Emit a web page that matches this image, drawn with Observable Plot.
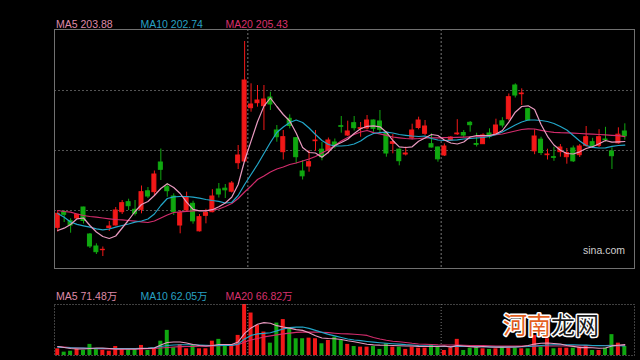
<!DOCTYPE html>
<html><head><meta charset="utf-8">
<script src="https://cdn.jsdelivr.net/npm/d3@7"></script>
<script src="https://cdn.jsdelivr.net/npm/@observablehq/plot@0.6"></script>
<style>
html,body{margin:0;padding:0;background:#000;}
#chart{position:relative;width:640px;height:360px;background:#000;overflow:hidden;}
#chart svg{position:absolute;left:0;}
</style></head><body><div id="chart"></div>
<script>
const opens = [176.26,181.26,178.38,179.24,182.76,174.12,170.28,169.1,176.2,177,
181.26,184.46,182.02,182.02,187.94,187.66,197.16,189.26,186.28,177,
181.8,183.94,175.14,180.1,181.26,188.52,188.78,187.82,196.94,197.48,
214.54,216.14,215.18,217.96,207.4,200.46,211.14,204.94,194.28,195.88,
203.98,201.26,201,203.56,208.78,205.8,209.74,207.94,208.04,210.6,
210.28,206.66,203.14,201.26,199.72,205.06,208.2,206.34,203.02,201.96,
199.4,204.2,206.18,206.6,209.86,203.08,203.02,206.44,206.34,210.34,
211.02,221.8,219.02,214.22,200.74,204.46,199.5,198.86,200.46,198.86,
201.64,199.5,202.5,203.66,202.5,204.52,200.68,203.3,207.08];
const closes = [180.74,180.42,177,180.42,178.44,170.28,168.46,169.22,176.68,181.8,
184.14,183.18,180.74,187.66,186.28,193.32,194.82,187.98,181.26,180.94,
186.06,178.34,179.66,181.06,186.28,186.92,188.26,190.44,199.4,223.4,
215.72,217,217.32,215.72,205.26,205.26,208.84,198.86,192.74,197.26,
204.2,198.86,204.2,202.44,208.58,207.08,208.14,208.14,210.6,207.94,
207.62,200.04,203.66,197.58,200.04,207.4,210.6,208.68,201.96,198.18,
202.28,205.16,206.44,205.8,209.1,202.82,205.8,205.38,209,209,
218.06,218.6,219.24,210.6,205.48,200.2,199.72,198.66,201.96,200.2,
197.54,202.28,205.26,202.34,205.26,204.3,199.18,206.06,205.54];
const highs = [181.8,181.8,179.14,180.68,182.86,174.44,171.14,170.12,178.28,182.76,
185,185.42,185,189.64,189.16,194.44,201.48,190.44,187.14,181.8,
187.66,184.78,180.52,182.18,188.46,190.44,190.12,191.08,202.6,235.88,
222.34,221.8,221.8,219.66,209,207.4,212.42,205.16,197.8,201,
207.4,203.56,205,204.68,211.88,210.38,211.88,209.96,212.2,210.76,
213.8,206.92,206.12,201.48,202.12,209.42,211.66,210.6,206.34,202.12,
203.08,205.48,210.86,207.4,210.28,206.54,206.34,207.94,211.02,211.5,
219.08,222.34,220.74,214.44,207.66,205.26,201.42,202.06,202.92,201.64,
202.44,202.92,208.68,204.9,207.66,208.42,201.86,208.26,209.54];
const lows = [174.86,177.96,174.54,179.08,177.48,169.64,167.72,167.08,175.08,176.84,
180.52,181.8,180.04,180.74,185.64,186.6,191.4,186.06,180.2,174.34,
181.26,177.42,174.92,177.54,181.06,185.8,185.64,187.4,194.92,197.16,
213.26,214.86,207.4,213.8,203.66,197.96,207.94,196.74,191.56,194.06,
200.68,197.7,199.94,201.54,206.54,205.48,207.24,205.26,207.56,206.86,
206.34,198.86,199.94,196.1,199.24,204.42,207.62,205.8,201.8,197.26,
199.08,203.98,205.8,205.06,206.86,202.12,202.92,204.74,206.12,208.2,
210.44,217.8,215.4,210.38,199.66,199.4,197.96,197.54,198.86,196.62,
197.16,198.76,202.06,201.8,201.96,203.66,194.92,203.02,204.3];
const ma5 = [175.4,176.14,177.32,179.14,179.4,177,174.92,173.48,172.84,173.64,
176.2,178.76,181.48,183.72,184.68,186.6,188.84,190.34,189.16,187.24,
184.46,182.18,181.7,181.7,182.06,183.02,184.2,186.06,190.12,197.8,
204.0,210.2,215.2,217.8,215.08,212.52,210.44,206.6,201.96,200.36,
200.2,198.86,200.46,202.6,203.56,204.58,206.44,207.94,208.74,208.9,
208.58,206.86,204.2,202.18,201.96,202.18,203.94,205,206.12,205.8,
204.36,203.4,203.08,203.72,205.32,205.8,205.8,205.8,206.28,207.4,
210.06,213.26,215.08,215.3,214.12,209.32,205.54,202.76,201.1,200.04,
199.88,200.58,201.64,202.22,203.14,204.2,203.66,203.78,203.88];
const ma10 = [180.84,179.66,178.12,177.38,176.9,176.46,175.94,175.62,175.88,176.46,
177,177.48,178.06,178.44,179.08,180.68,183.4,185.64,186.18,186.28,
186.28,186.06,185.74,185.32,185,184.74,184.2,184.36,186.6,190.12,
193.32,196.52,200.04,203.56,206.76,208.52,209.96,210.76,209.96,208.2,
206.12,204.2,202.92,202.44,202.44,202.6,203.08,204.04,205.48,206.44,
206.76,206.86,206.6,206.12,205.86,205.64,205.48,205.64,204.84,204.36,
204.2,204.3,204.42,204.68,204.84,205,205.16,205.48,206.12,206.92,
208.04,209.16,210.12,210.76,210.76,210.6,210.28,209.64,208.68,207.56,
205.8,204.04,202.6,202.02,201.8,201.86,202.3,202.6,202.74];
const ma20 = [181.8,181.48,181.26,180.68,180.2,179.88,179.66,179.4,179.14,178.92,
178.82,178.6,178.38,178.18,177.96,178.44,179.4,180.36,181.16,181.38,
181.54,181.7,181.8,181.8,181.96,182.28,183.08,184.04,185.64,187.72,
189.64,191.72,192.84,194.12,195.08,195.72,196.52,197,197.64,198.28,
199.08,200.2,201.32,202.6,204.04,205.16,206.12,206.92,207.4,206.7,
206.34,205.86,205.32,205.06,204.84,204.74,204.84,205,205.06,205.06,
205.1,205.16,205.22,205.29,205.35,205.42,205.54,205.74,206.06,206.28,
206.76,207.24,207.72,207.94,207.88,207.46,207.08,206.82,206.7,206.63,
206.54,206.44,206.34,206.22,206.12,205.99,205.86,205.74,205.43];
const volumes = [44,22,28,44,33,73,44,33,28,59,
40,40,40,66,33,44,94,165,51,71,
44,66,44,44,94,106,71,71,132,335,
279,198,154,81,213,236,180,110,110,114,
110,77,99,121,99,73,59,55,55,59,
40,77,55,55,40,55,48,48,66,59,
33,48,106,33,48,51,44,40,44,55,
48,48,44,44,132,55,110,44,48,48,
48,55,66,33,33,48,137,81,59];
const volMa5 = [59.4,52.8,46.2,42.9,42.9,46.2,49.5,49.5,46.2,42.9,
42.9,42.9,42.9,46.2,46.2,49.5,69.3,85.8,89.1,89.1,
82.5,72.6,66,62.7,66,72.6,72.6,72.6,89.1,145.2,
181,205,216,212,196,187,180,170,165,150,
130,115,112,110,105,97,90,82,74,70,
68,67.3,66,64,62,62,60,59,59.4,59.4,
62.7,55,66,62,58,55,59.4,56.1,54.8,54.8,
56.1,56.1,59.4,66,75,80,82,79,76,66,
60,52,53,51,48,49,63,67,71.48];
const volMa10 = [54.8,52.8,50.8,49.5,48.2,47.5,46.2,46.2,46.2,46.2,
46.2,46.2,46.2,47.5,49.5,52.8,59.4,66,69.3,70.6,
70.6,70.6,69.3,67.3,66,66,66,66,75.9,108.9,
132,141.9,145.2,149.8,161.7,174.9,182.8,186.1,186.8,178.2,
165,151.8,138.6,128.7,118.8,108.9,102.3,97.7,92.4,87.8,
83.8,80.5,77.2,74.6,71.3,69.3,66,64,62,60.7,
59.4,59.4,60.7,59.4,59.4,59.4,58.1,56.8,55.4,54.8,
54.8,56.1,57.4,59.4,62.7,66,69.3,70.6,70.6,70.6,
70.6,69.3,68,66,64.7,64,64.7,64,62.05];
const volMa20 = [59.4,56.1,52.8,50.8,48.2,46.2,44.9,43.6,42.9,42.2,
41.6,41.6,41.6,42.9,44.2,46.2,48.8,52.8,55.4,58.1,
59.4,59.4,60.7,61.4,62.7,64,66,68,70.6,89.1,
102.3,112.2,122.1,128.7,135.3,141.9,147.2,151.8,153.8,153.8,
153.8,153.1,150.5,146.5,143.2,141.9,139.9,136.6,132,118,
108,100,94,90,85,80,76,74,72,70,
69.3,68.6,68,67.3,66,65.3,64.7,64,62.7,61.4,
61.4,61.4,61.4,61.4,61.4,62,62.7,62.7,62.7,62.7,
62.7,63.4,64,64.7,65.3,66,66.7,66.7,66.82];
const monthBreaks = [29.5, 59.5];
const priceGrid = [181.8, 201, 220.2];
const priceLabels = ["MA5 203.88", "MA10 202.74", "MA20 205.43"];
const volumeLabels = ["MA5 71.48万", "MA10 62.05万", "MA20 66.82万"];
const slotCount = 90;

const RED = "#f21818", GREEN = "#10a810";
const C5 = "#e99ac0", C10 = "#22a6c8", C20 = "#d22c6c";
const L5 = "#df8aa8", L10 = "#28a2c4", L20 = "#d8306c";

const candles = opens.map((o, i) => ({
  i, open: o, close: closes[i], high: highs[i], low: lows[i],
  volume: volumes[i], up: closes[i] >= o
}));
const col = d => d.up ? RED : GREEN;
const series = (arr) => arr.map((v, i) => ({i, v}));
const xOpt = {domain: [-0.5, slotCount - 0.5], axis: null};
const half = 0.31;

const main = Plot.plot({
  width: 640, height: 270,
  marginLeft: 54, marginRight: 6, marginTop: 29, marginBottom: 2,
  style: {background: "transparent", color: "#ccc"},
  x: xOpt,
  y: {domain: [163.24, 239.72], axis: null},
  marks: [
    Plot.ruleY(priceGrid, {stroke: "#555", strokeDasharray: "2,2"}),
    Plot.ruleX(monthBreaks, {stroke: "#777", strokeDasharray: "2,2"}),
    Plot.ruleX(candles, {x: "i", y1: "low", y2: "high", stroke: col, strokeWidth: 1}),
    Plot.rect(candles, {x1: d => d.i - half, x2: d => d.i + half, y1: "open", y2: "close", fill: col, stroke: col, strokeWidth: 1}),
    Plot.line(series(ma20), {x: "i", y: "v", stroke: C20, strokeWidth: 1.2}),
    Plot.line(series(ma10), {x: "i", y: "v", stroke: C10, strokeWidth: 1.2}),
    Plot.line(series(ma5), {x: "i", y: "v", stroke: C5, strokeWidth: 1.2}),
    Plot.frame({stroke: "#707070"})
  ]
});
main.style.top = "0px";

const vol = Plot.plot({
  width: 640, height: 60,
  marginLeft: 54, marginRight: 6, marginTop: 4, marginBottom: 5,
  style: {background: "transparent", color: "#ccc"},
  x: xOpt,
  y: {domain: [0, 335], axis: null},
  marks: [
    Plot.ruleX(monthBreaks, {stroke: "#777", strokeDasharray: "1,2"}),
    Plot.rect(candles, {x1: d => d.i - half, x2: d => d.i + half, y1: 0, y2: "volume", fill: col}),
    Plot.line(series(volMa20), {x: "i", y: "v", stroke: C20, strokeWidth: 1.1}),
    Plot.line(series(volMa10), {x: "i", y: "v", stroke: C10, strokeWidth: 1.1}),
    Plot.line(series(volMa5), {x: "i", y: "v", stroke: C5, strokeWidth: 1.1}),
    Plot.frame({stroke: "#808080", strokeDasharray: "1,2"})
  ]
});
vol.style.top = "300px";

const root = document.getElementById("chart");
root.appendChild(main);
root.appendChild(vol);

const ov = d3.select(root).append("svg")
  .attr("width", 640).attr("height", 360)
  .style("top", "0px").style("pointer-events", "none");
const labelX = [56, 140.5, 225.5];
const labelColors = [L5, L10, L20];
const fam = "'Liberation Sans', Arial, 'Noto Sans CJK SC', sans-serif";
priceLabels.forEach((t, k) => ov.append("text").attr("x", labelX[k]).attr("y", 28.3)
  .attr("fill", labelColors[k]).attr("font-family", fam).attr("font-size", 10.5).text(t));
volumeLabels.forEach((t, k) => ov.append("text").attr("x", labelX[k]).attr("y", 299.5)
  .attr("fill", labelColors[k]).attr("font-family", fam).attr("font-size", 10.5).text(t));
ov.append("text").attr("x", 583).attr("y", 254).attr("fill", "#cfcfcf")
  .attr("font-family", fam).attr("font-size", 10.5).text("sina.com");
const wm = ov.append("text").attr("x", 503).attr("y", 334)
  .attr("font-family", "'Noto Sans CJK SC', sans-serif").attr("font-size", 24)
  .attr("stroke", "#ffffff").attr("stroke-width", 3).attr("paint-order", "stroke")
  .attr("stroke-linejoin", "round");
wm.append("tspan").attr("fill", "#e4601e").text("河南");
wm.append("tspan").attr("fill", "#1a1a1a").text("龙网");
</script></body></html>
